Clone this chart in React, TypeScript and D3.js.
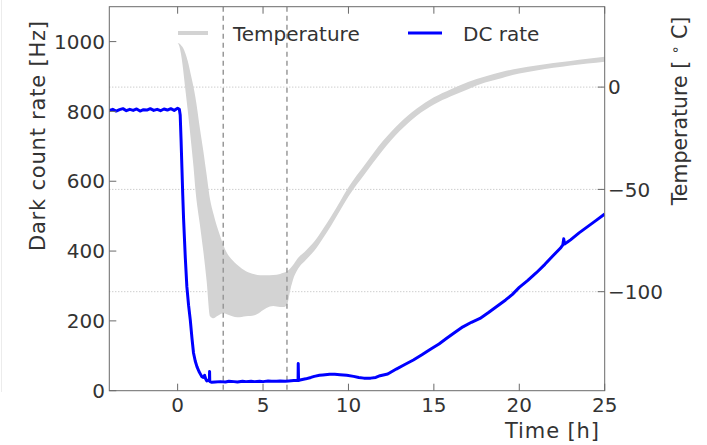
import React from "react";
import * as d3 from "d3";

const W = 707;
const H = 445;

// Dark count rate (left axis) [time h, rate Hz]
const dcTime = [
  -4, -3.8, -3.6, -3.4, -3.2, -3.0, -2.8, -2.6, -2.4, -2.2, -2.0, -1.8, -1.6, -1.4, -1.2, -1.0, -0.8, -0.6, -0.4, -0.2, 0.0, 0.1,
  0.15, 0.2, 0.25, 0.3, 0.35, 0.45, 0.54, 0.64, 0.74, 0.84, 0.93, 1.03, 1.13, 1.25, 1.35, 1.42, 1.5, 1.58, 1.65, 1.71, 1.8,
  1.86, 1.87, 1.88, 1.9, 2.0, 2.2, 2.5, 2.8, 3.0, 3.3, 3.5, 3.8, 4.0, 4.3, 4.5, 4.8, 5.0, 5.3, 5.5, 5.8, 6.0, 6.3, 6.5, 6.8,
  7.0, 7.05, 7.06, 7.08, 7.1, 7.3, 7.5, 7.8, 8.0, 8.3, 8.5, 8.9, 9.2, 9.5, 9.9, 10.3, 10.6, 10.9, 11.3, 11.6, 11.85, 12.3,
  12.8, 13.3, 13.8, 14.3, 14.8, 15.3, 15.75, 16.2, 16.7, 17.2, 17.7, 18.2, 18.7, 19.2, 19.6, 20.0, 20.5, 21.0, 21.5, 22.0,
  22.4, 22.55, 22.6, 22.65, 22.8, 23.0, 23.5, 24.0, 24.5, 25.0,
];
const dcRate = [
  803, 806, 801, 805, 808, 802, 806, 803, 807, 801, 805, 804, 808, 803, 806, 802, 807, 804, 808, 803, 809, 806,
  790, 720, 640, 560, 490, 380, 298, 245, 203, 150, 108, 85, 69, 55, 46, 40, 38, 44, 33, 28, 30,
  28, 55, 28, 26, 24, 25, 26, 25, 27, 26, 25, 27, 26, 27, 26, 27, 26, 28, 27, 27, 28, 27, 28, 29,
  29, 29, 78, 29, 30, 32, 34, 38, 41, 44, 45, 47, 47, 46, 44, 41, 38, 36, 36, 38, 43, 48,
  62, 75, 88, 103, 119, 134, 150, 166, 183, 196, 207, 224, 242, 260, 276, 296, 316, 338, 362, 388,
  408, 418, 435, 420, 425, 432, 452, 470, 488, 506,
];

// Temperature band (right axis) [time h, upper °C, lower °C]
const tempTime = [
  0.0, 0.1, 0.2, 0.33, 0.45, 0.6, 0.8, 0.93, 1.04, 1.3, 1.5, 1.7, 1.9, 2.1, 2.3, 2.5, 2.67, 2.88, 3.2, 3.5, 4.0, 4.5,
  4.83, 5.2, 5.6, 6.0, 6.2, 6.4, 6.6, 6.8, 7.0, 7.5, 8.0, 8.5, 9.0, 9.5, 10, 11, 12, 13, 14, 15, 16, 17, 18, 19, 20,
  21, 22, 23, 24, 25,
];
const tempUpper = [
  21.5, 21.3, 20.5, 19, 16.5, 12.5, 5, 0, -5, -20, -31, -43, -55, -62, -68, -73, -77, -81, -84.5, -87, -90, -91.5,
  -92, -92, -91.8, -91.3, -90.8, -90, -88.5, -86.5, -84, -80, -75.5, -69.5, -63, -56, -49, -37.5, -26.5, -17.5, -10.5, -5, -1, 2.5, 5.2, 7.5, 9.2,
  10.6, 11.8, 12.8, 13.8, 14.8,
];
const tempLower = [
  21.5, 20, 16, 8, -1, -12, -28, -39, -50, -67, -80, -95, -112, -113, -112, -111, -110.5, -111, -112, -112.5, -112, -111.5,
  -110, -108, -107, -107.5, -107.5, -106.5, -99, -93, -89.5, -84.5, -80, -74, -67.5, -60.5, -53.5, -42, -31, -21.5, -14, -8.5, -4.5, -1, 2.2, 4.5, 6.6,
  8.1, 9.4, 10.6, 11.5, 12.4,
];

const xTicks = [0, 5, 10, 15, 20, 25];
const yLeftTicks = [0, 200, 400, 600, 800, 1000];
const yRightTicks = [0, -50, -100];
const markerTimes = [2.67, 6.4];

const FONT = "'DejaVu Sans', 'Bitstream Vera Sans', sans-serif";

export default function App() {
  const L = 109.3, R = 604.7, T = 6.7, B = 390.7;
  const x = d3.scaleLinear().domain([-4, 25]).range([L, R]);
  const yL = d3.scaleLinear().domain([0, 1100]).range([B, T]);
  const yR = d3.scaleLinear().domain([-148.4, 39.3]).range([B, T]);

  const tempData = tempTime.map((t, i) => ({ t, u: tempUpper[i], l: tempLower[i] }));
  const area = d3
    .area<{ t: number; u: number; l: number }>()
    .x((d) => x(d.t))
    .y0((d) => yR(d.l))
    .y1((d) => yR(d.u))
    .curve(d3.curveMonotoneX);

  const dcData = dcTime.map((t, i) => [t, dcRate[i]] as [number, number]);
  const line = d3
    .line<[number, number]>()
    .x((d) => x(d[0]))
    .y((d) => yL(d[1]));

  const text = "#333";
  const spine = "#6a6a6a";
  const tickLen = 7;

  return (
    <svg
      width={W}
      height={H}
      style={{ position: "absolute", left: 0, top: 0, background: "#fff" }}
      fontFamily={FONT}
    >
      <rect x={0} y={0} width={W} height={H} fill="#fff" />
      <line x1={1.5} x2={1.5} y1={0} y2={392} stroke="#ececec" strokeWidth={1} />
      <defs>
        <clipPath id="plotclip">
          <rect x={L} y={T} width={R - L} height={B - T} />
        </clipPath>
      </defs>

      {/* grid from right axis */}
      {yRightTicks.map((v) => (
        <line
          key={"g" + v}
          x1={L}
          x2={R}
          y1={yR(v)}
          y2={yR(v)}
          stroke="#b8b8b8"
          strokeWidth={1}
          strokeDasharray="1,2"
        />
      ))}

      <g clipPath="url(#plotclip)">
        <path d={area(tempData) || ""} fill="#d3d3d3" stroke="none" />
        {markerTimes.map((t) => (
          <line
            key={"m" + t}
            x1={x(t)}
            x2={x(t)}
            y1={T}
            y2={B}
            stroke="#999"
            strokeWidth={1.5}
            strokeDasharray="5,4"
          />
        ))}
        <path d={line(dcData) || ""} fill="none" stroke="#0000ff" strokeWidth={3} strokeLinejoin="round" />
      </g>

      {/* frame */}
      <rect x={L} y={T} width={R - L} height={B - T} fill="none" stroke={spine} strokeWidth={1} />

      {/* x ticks */}
      {xTicks.map((v) => (
        <g key={"x" + v}>
          <line x1={x(v)} x2={x(v)} y1={B} y2={B - tickLen} stroke={spine} />
          <line x1={x(v)} x2={x(v)} y1={T} y2={T + tickLen} stroke={spine} />
          <text x={x(v)} y={412} textAnchor="middle" fontSize={20} fill={text}>
            {v}
          </text>
        </g>
      ))}

      {/* left ticks */}
      {yLeftTicks.map((v) => (
        <g key={"yl" + v}>
          <line x1={L} x2={L + tickLen} y1={yL(v)} y2={yL(v)} stroke={spine} />
          <text x={105} y={yL(v)} dy="0.36em" textAnchor="end" fontSize={20} fill={text}>
            {v}
          </text>
        </g>
      ))}

      {/* right ticks */}
      {yRightTicks.map((v) => (
        <g key={"yr" + v}>
          <line x1={R} x2={R - tickLen} y1={yR(v)} y2={yR(v)} stroke={spine} />
          <text x={608} y={yR(v)} dy="0.36em" textAnchor="start" fontSize={20} fill={text}>
            {v < 0 ? "\u2212" + Math.abs(v) : String(v)}
          </text>
        </g>
      ))}

      {/* axis labels */}
      <text x={552} y={438} textAnchor="middle" fontSize={21} fill={text} textLength={94} lengthAdjust="spacing">
        Time [h]
      </text>
      <text
        transform="translate(45,136) rotate(-90)"
        textAnchor="middle"
        fontSize={21}
        fill={text}
        textLength={230}
        lengthAdjust="spacing"
      >
        Dark count rate [Hz]
      </text>
      <text transform="translate(687,111) rotate(-90)" textAnchor="middle" fontSize={20.5} fill={text}>
        Temperature [ <tspan dy={-7} fontSize={14}>{"\u2218"}</tspan>
        <tspan dy={7}> C]</tspan>
      </text>

      {/* legend */}
      <line x1={178} x2={208} y1={33} y2={33} stroke="#d3d3d3" strokeWidth={4} />
      <text x={233} y={41} fontSize={20} fill={text}>
        Temperature
      </text>
      <line x1={408} x2={442} y1={33} y2={33} stroke="#0000ff" strokeWidth={3} />
      <text x={463} y={41} fontSize={20} fill={text}>
        DC rate
      </text>
    </svg>
  );
}
